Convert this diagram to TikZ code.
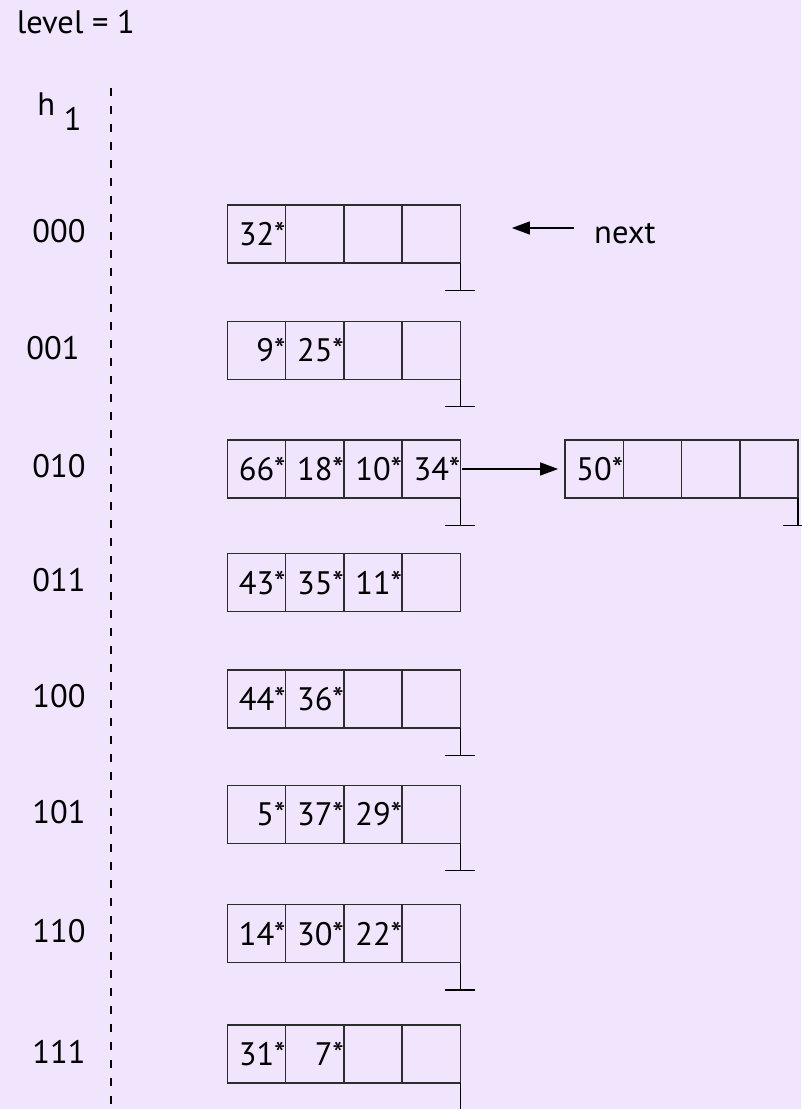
\documentclass[tikz,border=0pt]{standalone}
\usepackage{fontspec}
\setmainfont{PT Sans}
\usepackage{tikz}
\usetikzlibrary{positioning, arrows.meta, backgrounds}
\definecolor{bglilac}{RGB}{241,228,253}
\definecolor{linegray}{RGB}{45,45,45}

\begin{document}
\begin{tikzpicture}[
    cell/.style={draw=linegray, line width=0.8pt, rectangle, minimum height=1.16cm, text width=1.165cm, align=right, inner sep=0pt, outer sep=0pt, font=\fontsize{18.5}{22}\selectfont},
    hashlabel/.style={inner sep=0pt, font=\fontsize{18.5}{22}\selectfont},
    edge/.style={draw=black, line width=0.8pt},
    ptr/.style={edge, -{Triangle[length=0.36cm, width=0.26cm]}},
    nilptr/.style={edge, -{Bar[width=0.6cm]}},
    dirline/.style={black, line width=1.1pt, dash pattern=on 0.16cm off 0.2cm}
]

% Seitengroesse und Hintergrund
\useasboundingbox[fill=bglilac] (0,0) rectangle (16.02,-22.18);

% --- KOPF ---
\node[hashlabel, anchor=base west] (lvl) at (0.33,-0.68) {level = 1};
\node[hashlabel, anchor=base west] (hlab) at (0.74,-2.32) {h \raisebox{-0.3cm}{1}};

% --- BUCKETS ---
% Bucket 000 als Anker
\node[cell] (b0a) at (5.13,-4.68) {32*};
\node[cell, right=0pt of b0a] (b0b) {};
\node[cell, right=0pt of b0b] (b0c) {};
\node[cell, right=0pt of b0c] (b0d) {};

\node[cell, below=1.166cm of b0a] (b1a) {9*};
\node[cell, right=0pt of b1a] (b1b) {25*};
\node[cell, right=0pt of b1b] (b1c) {};
\node[cell, right=0pt of b1c] (b1d) {};

\node[cell, below=1.214cm of b1a] (b2a) {66*};
\node[cell, right=0pt of b2a] (b2b) {18*};
\node[cell, right=0pt of b2b] (b2c) {10*};
\node[cell, right=0pt of b2c] (b2d) {34*};

\node[cell, below=1.114cm of b2a] (b3a) {43*};
\node[cell, right=0pt of b3a] (b3b) {35*};
\node[cell, right=0pt of b3b] (b3c) {11*};
\node[cell, right=0pt of b3c] (b3d) {};

\node[cell, below=1.166cm of b3a] (b4a) {44*};
\node[cell, right=0pt of b4a] (b4b) {36*};
\node[cell, right=0pt of b4b] (b4c) {};
\node[cell, right=0pt of b4c] (b4d) {};

\node[cell, below=1.148cm of b4a] (b5a) {5*};
\node[cell, right=0pt of b5a] (b5b) {37*};
\node[cell, right=0pt of b5b] (b5c) {29*};
\node[cell, right=0pt of b5c] (b5d) {};

\node[cell, below=1.226cm of b5a] (b6a) {14*};
\node[cell, right=0pt of b6a] (b6b) {30*};
\node[cell, right=0pt of b6b] (b6c) {22*};
\node[cell, right=0pt of b6c] (b6d) {};

\node[cell, below=1.248cm of b6a] (b7a) {31*};
\node[cell, right=0pt of b7a] (b7b) {7*};
\node[cell, right=0pt of b7b] (b7c) {};
\node[cell, right=0pt of b7c] (b7d) {};

% Ueberlaufseite von 010
\node[cell, right=2.094cm of b2d] (ov0) {50*};
\node[cell, right=0pt of ov0] (ov1) {};
\node[cell, right=0pt of ov1] (ov2) {};
\node[cell, right=0pt of ov2] (ov3) {};

% Hashwerte links
\node[hashlabel, left=2.83cm of b0a, yshift=0.05cm] (l0) {000};
\node[hashlabel, left=2.95cm of b1a, yshift=0.05cm] (l1) {001};
\node[hashlabel, left=2.83cm of b2a, yshift=0.05cm] (l2) {010};
\node[hashlabel, left=2.83cm of b3a, yshift=0.05cm] (l3) {011};
\node[hashlabel, left=2.83cm of b4a, yshift=0.05cm] (l4) {100};
\node[hashlabel, left=2.83cm of b5a, yshift=0.05cm] (l5) {101};
\node[hashlabel, left=2.83cm of b6a, yshift=0.05cm] (l6) {110};
\node[hashlabel, left=2.83cm of b7a, yshift=0.05cm] (l7) {111};

% next-Zeiger
\node[hashlabel, right=2.67cm of b0d] (nxt) {next};
\coordinate[left=0.4cm of nxt, yshift=0.12cm] (nxtA);
\coordinate[left=1.24cm of nxtA] (nxtB);

% Enden der Nullzeiger
\coordinate[below=0.56cm of b0d.south east] (g0);
\coordinate[below=0.56cm of b1d.south east] (g1);
\coordinate[below=0.56cm of b2d.south east] (g2);
\coordinate[below=0.56cm of b4d.south east] (g4);
\coordinate[below=0.56cm of b5d.south east] (g5);
\coordinate[below=0.56cm of b6d.south east] (g6);
\coordinate[below=0.56cm of b7d.south east] (g7);
\coordinate[below=0.56cm of ov3.south east] (g8);

% gestrichelte Trennlinie
\coordinate (dtop) at (2.22,-1.76);
\coordinate (dbot) at (2.22,-22.18);

% --- KANTEN ---
\draw[dirline] (dtop) -- (dbot);
\draw[ptr] (nxtA) -- (nxtB);
\draw[ptr, shorten <=0.04cm, shorten >=0.14cm] (b2d.east) -- (ov0.west);

\draw[nilptr] (b0d.south east) -- (g0);
\draw[nilptr] (b1d.south east) -- (g1);
\draw[nilptr] (b2d.south east) -- (g2);
\draw[nilptr] (b4d.south east) -- (g4);
\draw[nilptr] (b5d.south east) -- (g5);
\draw[nilptr] (b6d.south east) -- (g6);
\draw[nilptr] (b7d.south east) -- (g7);
\draw[nilptr] (ov3.south east) -- (g8);

\end{tikzpicture}
\end{document}
